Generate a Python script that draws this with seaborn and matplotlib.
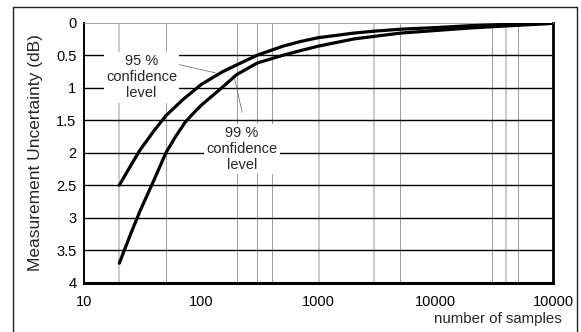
import numpy as np
import pandas as pd
import seaborn as sns
import matplotlib
matplotlib.use("Agg")
import matplotlib.pyplot as plt
from matplotlib.lines import Line2D

# Number of samples and the resulting uncertainty (dB) for both confidence levels
samples_95 = [20, 25, 30, 40, 50, 70, 100, 150, 200, 300, 500, 700, 1000, 2000, 3000, 5000,
              10000, 20000, 50000, 100000]
uncert_95 = [2.50, 2.20, 1.96, 1.65, 1.43, 1.18, 0.95, 0.76, 0.65, 0.50, 0.36, 0.29, 0.23, 0.16,
             0.13, 0.10, 0.075, 0.045, 0.02, 0.01]

samples_99 = [20, 25, 30, 40, 50, 60, 73, 85, 100, 150, 200, 300, 500, 700, 1000, 2000, 3000,
              5000, 10000, 20000, 50000, 100000]
uncert_99 = [3.70, 3.25, 2.90, 2.40, 2.00, 1.76, 1.53, 1.40, 1.27, 1.00, 0.80, 0.62, 0.50, 0.43,
             0.36, 0.25, 0.21, 0.16, 0.12, 0.08, 0.04, 0.01]

x_ticks = [10, 100, 1000, 10000, 100000]
x_tick_labels = ["10", "100", "1000", "10000", "10000"]
y_ticks = [0, 0.5, 1, 1.5, 2, 2.5, 3, 3.5, 4]
y_tick_labels = ["0", "0.5", "1", "1.5", "2", "2.5", "3", "3.5", "4"]

light_grid = [20, 1000, 3000, 40000]
dark_grid = [50, 200, 300, 400, 5000, 30000, 50000]

df = pd.concat([
    pd.DataFrame({"samples": samples_95, "uncertainty": uncert_95, "level": "95 %"}),
    pd.DataFrame({"samples": samples_99, "uncertainty": uncert_99, "level": "99 %"}),
], ignore_index=True)

sns.set_style("white")
plt.rcParams["font.family"] = ["Liberation Sans", "DejaVu Sans"]

fig = plt.figure(figsize=(5.81, 3.32), dpi=100)
ax = fig.add_axes([84 / 581, 1 - 282.7 / 332, (553 - 84) / 581, 260 / 332])

# grid
for g in light_grid:
    ax.axvline(g, color="#cccccc", lw=1.5, zorder=1)
for g in dark_grid:
    ax.axvline(g, color="#999999", lw=0.7, zorder=1)
ax.hlines(y_ticks[1:-1], 10, 100000, color="black", lw=1.0, zorder=1.5)

sns.lineplot(data=df, x="samples", y="uncertainty", hue="level",
             palette=["black", "black"], estimator=None, sort=True,
             lw=2.3, legend=False, ax=ax, zorder=3)

ax.set_xscale("log")
ax.set_xlim(10, 100000)
ax.set_ylim(4, 0)
ax.set_xticks(x_ticks)
ax.set_xticklabels(x_tick_labels)
ax.set_yticks(y_ticks)
ax.set_yticklabels(y_tick_labels)
ax.minorticks_off()
ax.tick_params(axis="x", direction="in", length=3, width=0.8, pad=9, labelsize=10.5, colors="black")
ax.tick_params(axis="y", direction="out", length=2.5, width=0.8, pad=3, labelsize=10.5, colors="black")

ax.set_xlabel("number of samples", fontsize=10.8)
ax.xaxis.set_label_coords(1.0186, -0.1408)
ax.xaxis.label.set_horizontalalignment("right")
ax.xaxis.label.set_verticalalignment("center")
ax.set_ylabel("Measurement Uncertainty (dB)", fontsize=12.5)
ax.yaxis.set_label_coords(-0.1034, 0.5)
ax.yaxis.label.set_verticalalignment("center")

for side in ["left", "bottom", "right", "top"]:
    ax.spines[side].set_visible(True)
ax.spines["left"].set_linewidth(1.4)
ax.spines["left"].set_color("black")
ax.spines["bottom"].set_linewidth(2.2)
ax.spines["bottom"].set_color("black")
ax.spines["right"].set_linewidth(2.0)
ax.spines["right"].set_color("black")
ax.spines["top"].set_linewidth(0.6)
ax.spines["top"].set_color("#999999")

# curve labels with leader lines
box = dict(facecolor="white", edgecolor="none", pad=1.5)
ax.annotate("", xy=(139, 0.78), xytext=(56, 0.62),
            arrowprops=dict(arrowstyle="-", color="#777777", lw=0.6), zorder=2)
ax.annotate("", xy=(190, 0.82), xytext=(226, 1.42),
            arrowprops=dict(arrowstyle="-", color="#777777", lw=0.6), zorder=2)
ax.text(31, 0.84, "95 %\nconfidence\nlevel", ha="center", va="center",
        fontsize=10.5, linespacing=1.2, bbox=box, zorder=2.5)
ax.text(223, 1.94, "99 %\nconfidence\nlevel", ha="center", va="center",
        fontsize=10.5, linespacing=1.2, bbox=box, zorder=2.5)

# outer frame around the figure
frame_kw = dict(color="#222222", lw=1.0, transform=fig.transFigure, clip_on=False)
x0, x1, y1 = 13.3 / 581, 577 / 581, 1 - 7.3 / 332
fig.add_artist(Line2D([x0, x0], [-0.05, y1], **frame_kw))
fig.add_artist(Line2D([x0, x1], [y1, y1], **frame_kw))
fig.add_artist(Line2D([x1, x1], [-0.05, y1], **frame_kw))

fig.savefig("out.png", dpi=100)
